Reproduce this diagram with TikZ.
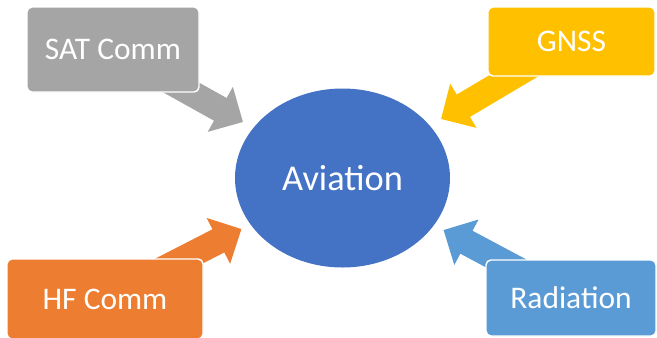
\documentclass[tikz,border=0pt]{standalone}
\usepackage{fontspec}
\setmainfont{Carlito}
\usetikzlibrary{arrows.meta,shapes,backgrounds}
\definecolor{satgray}{HTML}{A5A5A5}
\definecolor{gnssyellow}{HTML}{FFC000}
\definecolor{hforange}{HTML}{ED7D31}
\definecolor{radblue}{HTML}{5B9BD5}
\definecolor{avblue}{HTML}{4472C4}
\tikzstyle{source}=[rectangle,rounded corners=2.8pt,draw=white,line width=0.8pt,text=white,inner sep=0pt,font=\fontsize{17.9}{21}\selectfont]
\tikzstyle{target}=[ellipse,fill=avblue,text=white,minimum width=4.3cm,minimum height=3.58cm,inner sep=0pt,font=\fontsize{20.7}{24}\selectfont]
\tikzstyle{feed}=[line width=0.52cm,-{Triangle[length=0.52cm,width=1.0cm]}]

\begin{document}
\begin{tikzpicture}
    \useasboundingbox (0,0) rectangle (13.14,6.74);

    \node[target] (av) at (6.85,3.18) {Aviation};

    \foreach \pos/\name/\col/\w/\h/\txt in {{(2.26,5.75)/sat/satgray/3.44/1.70/SAT Comm}, {(11.43,5.91)/gnss/gnssyellow/3.34/1.38/GNSS},
        {(2.10,0.76)/hf/hforange/3.92/1.60/HF Comm}, {(11.42,0.78)/rad/radblue/3.40/1.52/Radiation}}
        \node[source,fill=\col,minimum width=\w cm,minimum height=\h cm] (\name) at \pos {\txt};

    % arrow tips, just short of the ellipse
    \coordinate (tip-sat) at (4.86,4.30);
    \coordinate (tip-gnss) at (8.82,4.36);
    \coordinate (tip-hf) at (4.83,2.16);
    \coordinate (tip-rad) at (8.87,2.14);

    \begin{scope}[on background layer]
    \foreach \name/\col in {sat/satgray, gnss/gnssyellow, hf/hforange, rad/radblue}
        \draw[feed,color=\col] (\name.center) -- (tip-\name);
    \end{scope}
\end{tikzpicture}
\end{document}
